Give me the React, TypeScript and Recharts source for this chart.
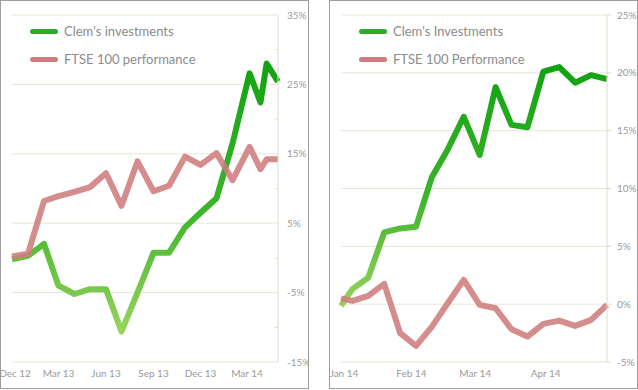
import { CartesianGrid, Line, LineChart, XAxis, YAxis } from "recharts";

const leftDates = [
  "2012-12-01", "2013-01-01", "2013-02-01", "2013-03-01", "2013-04-01", "2013-05-01",
  "2013-06-01", "2013-07-01", "2013-08-01", "2013-09-01", "2013-10-01", "2013-11-01",
  "2013-12-01", "2014-01-01", "2014-02-01", "2014-03-06", "2014-03-27", "2014-04-08",
  "2014-04-30",
];
const leftClem = [-0.2, 0.3, 2.0, -4.0, -5.2, -4.5, -4.5, -10.6, -5.0, 0.75, 0.75, 4.4, 6.5, 8.6, 16.5, 26.6, 22.4, 28.0, 25.4];
const leftFtse = [0.2, 0.6, 8.2, 8.9, 9.5, 10.2, 12.2, 7.5, 13.9, 9.6, 10.4, 14.6, 13.4, 15.1, 11.2, 16.0, 12.8, 14.2, 14.2];
const leftTickDates = ["2012-12-01", "2013-03-01", "2013-06-01", "2013-09-01", "2013-12-01", "2014-03-01"];
const leftTickLabels = ["Dec 12", "Mar 13", "Jun 13", "Sep 13", "Dec 13", "Mar 14"];
const leftYTicks = [-15, -10, -5, 0, 5, 10, 15, 20, 25, 30, 35];
const leftYMajor = [-15, -5, 5, 15, 25, 35];

const rightDates = [
  "2014-01-01", "2014-01-06", "2014-01-13", "2014-01-20", "2014-01-27", "2014-02-03",
  "2014-02-10", "2014-02-17", "2014-02-24", "2014-03-03", "2014-03-10", "2014-03-17",
  "2014-03-24", "2014-03-31", "2014-04-07", "2014-04-14", "2014-04-21", "2014-04-28",
];
const rightClem = [-0.15, 1.3, 2.3, 6.2, 6.55, 6.7, 11.0, 13.4, 16.2, 12.9, 18.75, 15.5, 15.3, 20.1, 20.5, 19.15, 19.8, 19.45];
const rightFtse = [0.5, 0.28, 0.71, 1.75, -2.5, -3.6, -1.94, 0.1, 2.1, -0.06, -0.35, -2.17, -2.8, -1.7, -1.42, -1.88, -1.36, -0.06];
const rightTickDates = ["2014-01-01", "2014-02-01", "2014-03-01", "2014-04-01"];
const rightTickLabels = ["Jan 14", "Feb 14", "Mar 14", "Apr 14"];
const rightYTicks = [-5, 0, 5, 10, 15, 20, 25];

const ts = (d: string) => new Date(d + "T00:00:00Z").getTime();

const GREEN_LEGEND = "#2eaa2e";
const RED = "#cf7c7c";
const GRID = "#e6e6d6";
const AXIS = "#deddc8";
const LABEL = "#9a9a9a";

function build(dates: string[], clem: number[], ftse: number[]) {
  return dates.map((d, i) => ({ t: ts(d), clem: clem[i], ftse: ftse[i] }));
}

function Legend({ labels }: { labels: string[] }) {
  const colors = [GREEN_LEGEND, RED];
  return (
    <div style={{ position: "absolute", left: 29, top: 16 }}>
      {labels.map((l, i) => (
        <div key={l} style={{ display: "flex", alignItems: "center", height: 28 }}>
          <span
            style={{
              display: "inline-block",
              width: 28,
              height: 5,
              borderRadius: 3,
              background: colors[i],
              marginRight: 6,
            }}
          />
          <span style={{ fontSize: 13, color: "#8c8c8c", whiteSpace: "nowrap" }}>{l}</span>
        </div>
      ))}
    </div>
  );
}

function Panel({
  left,
  data,
  xDomain,
  xTicks,
  xLabels,
  yTicks,
  yMajor,
  yDomain,
  gradId,
  legend,
  tickOut,
}: any) {
  const labelFor = (v: number) => xLabels[xTicks.indexOf(v)] ?? "";
  const XTick = (p: any) => (
    // keep the first label inside the panel border
    <text x={Math.max(p.x, 15)} y={p.y} dy="0.71em" fontSize={10} fill={LABEL} textAnchor="middle">
      {labelFor(p.payload.value)}
    </text>
  );
  const YTick = (p: any) => {
    const v = p.payload.value;
    if (yMajor.includes(v)) {
      return (
        <text x={p.x} y={p.y} dy="0.35em" fontSize={10} fill={LABEL} textAnchor="start">
          {v}%
        </text>
      );
    }
    return <line x1={p.x - 12} x2={p.x - 9} y1={p.y} y2={p.y} stroke={AXIS} />;
  };
  return (
    <div
      style={{
        position: "absolute",
        left,
        top: 0,
        width: 309,
        height: 389,
        border: "1px solid #9c9c9c",
        boxSizing: "border-box",
      }}
    >
      <div style={{ position: "absolute", left: -1, top: -1 }}>
        <LineChart width={309} height={389} data={data} margin={{ top: 15, left: 12, right: 0, bottom: 0 }}>
          <defs>
            <linearGradient id={gradId} x1="0" y1="0" x2="0" y2="1">
              <stop offset="0" stopColor="#12a312" />
              <stop offset="0.55" stopColor="#3cb42c" />
              <stop offset="1" stopColor="#98d35c" />
            </linearGradient>
          </defs>
          <CartesianGrid vertical={false} stroke={GRID} horizontalValues={yMajor} />
          <XAxis
            dataKey="t"
            type="number"
            domain={xDomain}
            ticks={xTicks}
            axisLine={false}
            tickLine={false}
            tickSize={0}
            tickMargin={8}
            height={27}
            interval={0}
            tick={XTick}
          />
          <YAxis
            orientation="right"
            domain={yDomain}
            ticks={yTicks}
            width={31}
            axisLine={{ stroke: AXIS }}
            tickLine={tickOut ? { stroke: AXIS } : false}
            tickSize={tickOut ? 4 : 0}
            tickMargin={tickOut ? 6 : 9}
            interval={0}
            tick={tickOut ? { fontSize: 10, fill: LABEL } : YTick}
            tickFormatter={(v: number) => `${v}%`}
            allowDataOverflow
          />
          <Line
            dataKey="clem"
            type="linear"
            stroke={`url(#${gradId})`}
            strokeWidth={6}
            strokeLinejoin="round"
            dot={false}
            activeDot={false}
            isAnimationActive={false}
          />
          <Line
            dataKey="ftse"
            type="linear"
            stroke={RED}
            strokeOpacity={0.88}
            strokeWidth={6}
            strokeLinejoin="round"
            dot={false}
            activeDot={false}
            isAnimationActive={false}
          />
        </LineChart>
      </div>
      <Legend labels={legend} />
    </div>
  );
}

export default function App() {
  const leftData = build(leftDates, leftClem, leftFtse);
  const rightData = build(rightDates, rightClem, rightFtse);
  return (
    <div
      style={{
        position: "absolute",
        left: 0,
        top: 0,
        width: 638,
        height: 390,
        background: "#fff",
        fontFamily: "Lato, 'Open Sans', sans-serif",
      }}
    >
      <Panel
        left={0}
        data={leftData}
        xDomain={[ts(leftDates[0]), ts(leftDates[leftDates.length - 1])]}
        xTicks={leftTickDates.map(ts)}
        xLabels={leftTickLabels}
        yTicks={leftYTicks}
        yMajor={leftYMajor}
        yDomain={[-15, 35]}
        gradId="gradLeft"
        legend={["Clem's investments", "FTSE 100 performance"]}
        tickOut={false}
      />
      <Panel
        left={329}
        data={rightData}
        xDomain={[ts(rightDates[0]), ts(rightDates[rightDates.length - 1])]}
        xTicks={rightTickDates.map(ts)}
        xLabels={rightTickLabels}
        yTicks={rightYTicks}
        yMajor={rightYTicks}
        yDomain={[-5, 25]}
        gradId="gradRight"
        legend={["Clem's Investments", "FTSE 100 Performance"]}
        tickOut={true}
      />
    </div>
  );
}
